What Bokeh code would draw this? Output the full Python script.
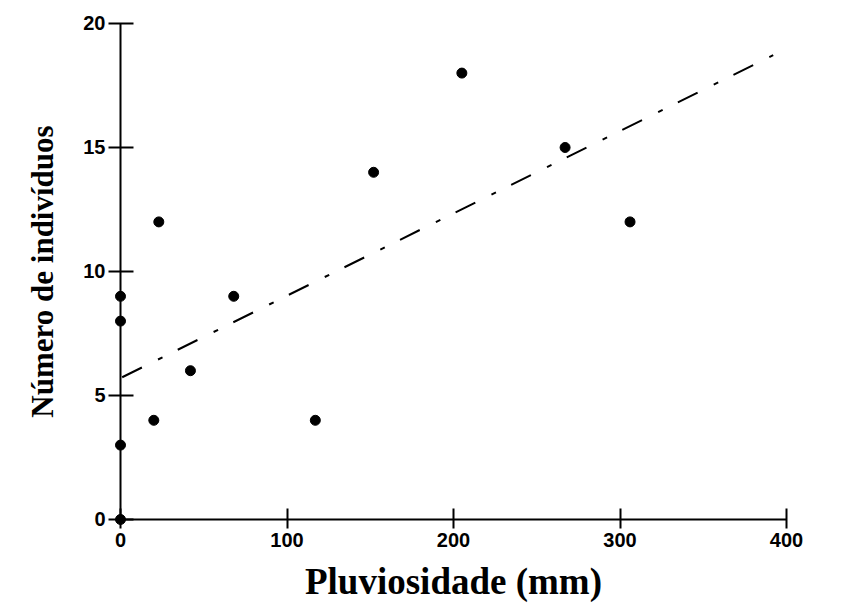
import numpy as np
from bokeh.plotting import figure
from bokeh.models import Range1d, FixedTicker
from bokeh.embed import file_html
from bokeh.resources import INLINE

# Data
rain_mm = [0, 0, 0, 0, 20, 23, 42, 68, 117, 152, 205, 267, 306]
individuals = [0, 3, 8, 9, 4, 12, 6, 9, 4, 14, 18, 15, 12]
x_ticks = [0, 100, 200, 300, 400]
y_ticks = [0, 5, 10, 15, 20]
fit_x = [1, 392]

slope, intercept = np.polyfit(rain_mm, individuals, 1)
fit_y = [intercept + slope * v for v in fit_x]

W, H = 843, 606
p = figure(width=W, height=H, output_backend="svg", toolbar_location=None,
           x_range=Range1d(-72.07, 434.2), y_range=Range1d(-3.508, 20.927),
           min_border_left=0, min_border_right=0, min_border_top=0,
           min_border_bottom=0)
p.grid.visible = False
p.outline_line_color = None
p.background_fill_color = "white"
p.border_fill_color = "white"

p.line(fit_x, fit_y, line_color="black", line_width=2, line_dash="22 18 5 17")
p.scatter(rain_mm, individuals, size=10, marker="circle", fill_color="black", line_color="black")

for ax in (p.xaxis[0], p.yaxis[0]):
    ax.axis_line_color = "black"
    ax.axis_line_width = 2
    ax.major_tick_line_color = "black"
    ax.major_tick_line_width = 2
    ax.minor_tick_line_color = None
    ax.major_label_text_font = "Liberation Sans"
    ax.major_label_text_font_style = "bold"
    ax.major_label_text_font_size = "20px"
    ax.major_label_text_color = "black"
    ax.axis_label_text_font = "Liberation Serif"
    ax.axis_label_text_font_style = "bold"
    ax.axis_label_text_color = "black"
    ax.fixed_location = 0

xa = p.xaxis[0]
xa.ticker = FixedTicker(ticks=x_ticks)
xa.bounds = (0, 400)
xa.major_tick_in = 11
xa.major_tick_out = 9
xa.major_label_standoff = 5
xa.axis_label = "Pluviosidade (mm)"
xa.axis_label_text_font_size = "37px"
xa.axis_label_standoff = 10

ya = p.yaxis[0]
ya.ticker = FixedTicker(ticks=y_ticks)
ya.bounds = (0, 20)
ya.major_tick_in = 13
ya.major_tick_out = 12
ya.major_label_standoff = 3
ya.axis_label = "Número de indivíduos"
ya.axis_label_text_font_size = "31px"
ya.axis_label_standoff = 20

open("out.html", "w").write(file_html(p, INLINE))
